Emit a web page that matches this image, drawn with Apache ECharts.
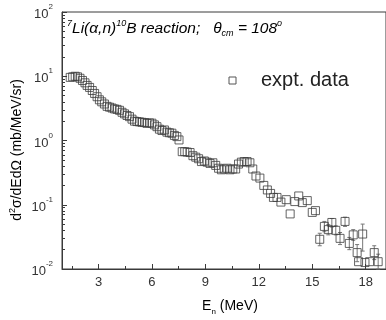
<!DOCTYPE html>
<html><head><meta charset="utf-8">
<script src="https://cdn.jsdelivr.net/npm/echarts@6/dist/echarts.min.js"></script>
<style>html,body{margin:0;padding:0;background:#fff}#c{width:386px;height:320px}</style>
</head><body><div id="c"></div>
<script>
var energies = [1.41,1.55,1.69,1.82,1.96,2.10,2.24,2.36,2.50,2.65,2.78,2.92,3.05,3.18,3.33,3.48,3.62,3.76,3.90,4.04,4.18,4.32,4.46,4.60,4.74,4.88,5.02,5.16,5.30,5.44,5.58,5.72,5.86,6.00,6.14,6.28,6.42,6.56,6.70,6.84,6.98,7.12,7.26,7.40,7.52,7.70,7.84,7.98,8.14,8.30,8.46,8.62,8.78,8.94,9.10,9.26,9.42,9.58,9.74,9.90,10.06,10.22,10.38,10.54,10.70,10.86,11.02,11.18,11.34,11.50,11.66,11.84,12.06,12.28,12.48,12.66,12.82,13.02,13.24,13.54,13.76,14.02,14.24,14.44,14.72,15.00,15.18,15.42,15.68,15.90,16.10,16.32,16.56,16.84,17.08,17.30,17.52,17.60,17.83,17.96,18.22,18.48,18.70];
var crossSections = [9.6,9.8,10.0,9.8,9.3,8.6,7.9,7.2,6.7,6.0,5.4,4.8,4.3,4.0,3.7,3.4,3.3,3.2,3.1,3.05,2.95,2.75,2.6,2.45,2.35,2.15,2.0,1.97,1.95,1.92,1.9,1.85,1.88,1.86,1.75,1.64,1.5,1.43,1.46,1.35,1.32,1.30,1.2,1.15,1.02,0.67,0.67,0.66,0.65,0.58,0.55,0.52,0.47,0.48,0.46,0.44,0.45,0.41,0.37,0.35,0.36,0.37,0.35,0.36,0.36,0.43,0.46,0.47,0.47,0.45,0.36,0.28,0.26,0.2,0.17,0.15,0.13,0.13,0.11,0.12,0.072,0.112,0.137,0.108,0.116,0.076,0.081,0.029,0.046,0.041,0.053,0.040,0.030,0.055,0.025,0.034,0.018,0.013,0.035,0.0126,0.013,0.018,0.013];
// error bars for the high-energy points
var errE    = [15.42,15.68,15.90,16.10,16.32,16.56,16.84,17.08,17.30,17.52,17.83,18.48,18.70];
var errLow  = [0.023,0.038,0.034,0.045,0.034,0.024,0.046,0.020,0.028,0.013,0.019,0.014,0.010];
var errHigh = [0.036,0.055,0.049,0.061,0.047,0.037,0.064,0.031,0.041,0.024,0.050,0.023,0.017];
var xTickLabels = [3,6,9,12,15,18];
var xMinorTicks = [1.5,4.5,7.5,10.5,13.5,16.5];
var yMinorTicks = [];
[0.01,0.1,1,10].forEach(function(d){for(var k=2;k<=9;k++)yMinorTicks.push(+(d*k).toPrecision(3));});

var FONT = 'Liberation Sans, Arial, sans-serif';
var AX = '#3a3a3a';
var chart = echarts.init(document.getElementById('c'), null, {renderer:'canvas'});
var pts = energies.map(function(e,i){return [e, crossSections[i]];});
var errs = errE.map(function(e,i){return [e, errLow[i], errHigh[i]];});
var grid = {left:62, right:-4, top:12, bottom:51, show:true, borderColor:AX, borderWidth:1, backgroundColor:'transparent'};
var xmin = 0.95, xmax = 19.14;
var option = {
  animation:false,
  grid: grid,
  xAxis: [{
    type:'value', min:xmin, max:xmax,
    axisLine:{show:true, onZero:false, lineStyle:{color:AX, width:1}},
    axisTick:{show:true, inside:true, length:5, customValues:xTickLabels, lineStyle:{color:AX}},
    axisLabel:{customValues:xTickLabels, color:'#333', fontFamily:FONT, fontSize:13, margin:7},
    splitLine:{show:false}
  },{
    type:'value', min:xmin, max:xmax, position:'bottom',
    axisLine:{show:false},
    axisTick:{show:true, inside:true, length:3, customValues:xMinorTicks, lineStyle:{color:AX}},
    axisLabel:{show:false}, splitLine:{show:false}
  }],
  yAxis: [{
    type:'log', logBase:10, min:0.01, max:100,
    axisLine:{show:true, lineStyle:{color:AX, width:1}},
    axisTick:{show:true, inside:true, length:5, lineStyle:{color:AX}},
    axisLabel:{color:'#333', fontFamily:FONT, margin:9,
      formatter:function(v){var p=Math.round(Math.log10(v));return '{b|10}{s|'+p+'}';},
      rich:{b:{fontSize:13, fontFamily:FONT, color:'#333', lineHeight:18, verticalAlign:'bottom'},
            s:{fontSize:8, fontFamily:FONT, color:'#333', lineHeight:18, verticalAlign:'top'}}},
    splitLine:{show:false}
  },{
    type:'log', logBase:10, min:0.01, max:100, position:'left',
    axisLine:{show:false},
    axisTick:{show:true, inside:true, length:3, customValues:yMinorTicks, lineStyle:{color:AX}},
    axisLabel:{show:false}, splitLine:{show:false}
  }],
  series: [{
    type:'custom', name:'err', xAxisIndex:0, yAxisIndex:0, data:errs, z:2,
    renderItem:function(params, api){
      var x=api.value(0), lo=api.value(1), hi=api.value(2);
      var p1=api.coord([x,lo]), p2=api.coord([x,hi]);
      return {type:'group', children:[
        {type:'line', shape:{x1:p1[0],y1:p1[1],x2:p2[0],y2:p2[1]}, style:{stroke:'#777', lineWidth:1}},
        {type:'line', shape:{x1:p1[0]-2,y1:p1[1],x2:p1[0]+2,y2:p1[1]}, style:{stroke:'#777', lineWidth:1}},
        {type:'line', shape:{x1:p2[0]-2,y1:p2[1],x2:p2[0]+2,y2:p2[1]}, style:{stroke:'#777', lineWidth:1}}
      ]};
    }
  },{
    type:'scatter', name:'expt. data', xAxisIndex:0, yAxisIndex:0, data:pts, z:3,
    symbol:'rect', symbolSize:8,
    itemStyle:{color:'rgba(255,255,255,0)', borderColor:'#3d3d3d', borderWidth:1}
  }],
  graphic: [
    {type:'text', left:67, top:19, style:{
      text:'{sp|7}{t|Li(α,n)}{sp|10}{t|B reaction;   θ}{sb|cm}{t| = 108}{sp|o}',
      rich:{t:{fontSize:15.5, fontStyle:'italic', fontFamily:FONT, color:'#222', lineHeight:19, verticalAlign:'middle'},
            sp:{fontSize:9, fontStyle:'italic', fontFamily:FONT, color:'#222', lineHeight:19, verticalAlign:'top'},
            sb:{fontSize:9, fontStyle:'italic', fontFamily:FONT, color:'#222', lineHeight:19, verticalAlign:'bottom'}}
    }},
    {type:'rect', shape:{x:229, y:77, width:7, height:7}, style:{fill:'none', stroke:'#555', lineWidth:1}},
    {type:'text', left:261, top:70, style:{text:'expt. data', fontSize:20, fontFamily:FONT, fill:'#222'}},
    {type:'text', x:17, y:150, rotation:Math.PI/2, style:{
      text:'{t|d}{s|2}{t|σ/dEdΩ (mb/MeV/sr)}', align:'center', verticalAlign:'middle',
      rich:{t:{fontSize:14, fontFamily:FONT, color:'#222', lineHeight:18, verticalAlign:'middle'},
            s:{fontSize:9, fontFamily:FONT, color:'#222', lineHeight:18, verticalAlign:'top'}}
    }},
    {type:'text', x:230, y:306, style:{
      text:'{t|E}{s|n}{t| (MeV)}', align:'center', verticalAlign:'middle',
      rich:{t:{fontSize:14, fontFamily:FONT, color:'#222', lineHeight:20, verticalAlign:'middle'},
            s:{fontSize:8, fontFamily:FONT, color:'#222', lineHeight:20, verticalAlign:'bottom'}}
    }}
  ]
};
chart.setOption(option);
</script></body></html>
